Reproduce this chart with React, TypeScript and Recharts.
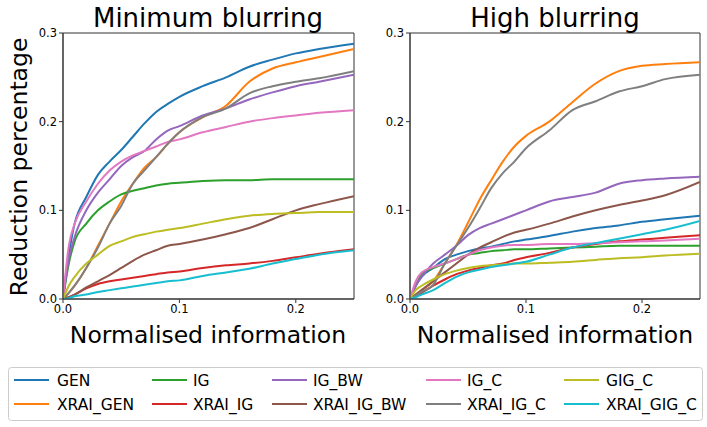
import React from 'react';
import { LineChart, Line, XAxis, YAxis, ReferenceArea } from 'recharts';

// shared x grid (normalised information)
const xGrid = [0, 0.005, 0.01, 0.02, 0.03, 0.04, 0.05, 0.06, 0.07, 0.08, 0.09, 0.1, 0.12, 0.14, 0.16, 0.18, 0.2, 0.22, 0.25];

const seriesNames = ['GEN', 'XRAI_GEN', 'IG', 'XRAI_IG', 'IG_BW', 'XRAI_IG_BW', 'IG_C', 'XRAI_IG_C', 'GIG_C', 'XRAI_GIG_C'];
const seriesColors = ['#1f77b4', '#ff7f0e', '#2ca02c', '#d62728', '#9467bd', '#8c564b', '#e377c2', '#7f7f7f', '#bcbd22', '#17becf'];

const xTicks = [0, 0.1, 0.2];
const yTicks = [0, 0.1, 0.2, 0.3];

// Minimum blurring
const minGEN = [0, 0.05, 0.085, 0.115, 0.14, 0.155, 0.168, 0.183, 0.198, 0.211, 0.22, 0.228, 0.24, 0.25, 0.262, 0.27, 0.277, 0.282, 0.288];
const minXRAI_GEN = [0, 0.007, 0.015, 0.035, 0.06, 0.085, 0.11, 0.13, 0.148, 0.16, 0.175, 0.188, 0.205, 0.218, 0.245, 0.26, 0.267, 0.273, 0.282];
const minIG = [0, 0.04, 0.065, 0.085, 0.1, 0.11, 0.118, 0.122, 0.125, 0.128, 0.13, 0.131, 0.133, 0.134, 0.134, 0.135, 0.135, 0.135, 0.135];
const minXRAI_IG = [0, 0.002, 0.005, 0.012, 0.017, 0.02, 0.022, 0.024, 0.026, 0.028, 0.03, 0.031, 0.035, 0.038, 0.04, 0.043, 0.047, 0.051, 0.056];
const minIG_BW = [0, 0.045, 0.07, 0.1, 0.12, 0.135, 0.15, 0.16, 0.167, 0.18, 0.19, 0.195, 0.207, 0.215, 0.225, 0.233, 0.24, 0.245, 0.253];
const minXRAI_IG_BW = [0, 0.002, 0.005, 0.013, 0.02, 0.027, 0.035, 0.043, 0.05, 0.055, 0.06, 0.062, 0.067, 0.073, 0.08, 0.09, 0.1, 0.107, 0.116];
const minIG_C = [0, 0.06, 0.085, 0.11, 0.13, 0.145, 0.155, 0.162, 0.167, 0.172, 0.177, 0.18, 0.188, 0.194, 0.2, 0.204, 0.207, 0.21, 0.213];
const minXRAI_IG_C = [0, 0.007, 0.015, 0.035, 0.058, 0.085, 0.105, 0.13, 0.145, 0.16, 0.175, 0.188, 0.205, 0.215, 0.232, 0.24, 0.245, 0.249, 0.257];
const minGIG_C = [0, 0.015, 0.025, 0.04, 0.05, 0.06, 0.065, 0.07, 0.073, 0.076, 0.078, 0.08, 0.085, 0.09, 0.094, 0.096, 0.097, 0.098, 0.098];
const minXRAI_GIG_C = [0, 0.001, 0.003, 0.005, 0.008, 0.01, 0.012, 0.014, 0.016, 0.018, 0.02, 0.021, 0.026, 0.03, 0.034, 0.04, 0.045, 0.05, 0.055];

// High blurring
const highGEN = [0, 0.015, 0.025, 0.035, 0.045, 0.05, 0.054, 0.057, 0.059, 0.062, 0.065, 0.067, 0.071, 0.076, 0.08, 0.083, 0.087, 0.09, 0.094];
const highXRAI_GEN = [0, 0.005, 0.01, 0.02, 0.04, 0.061, 0.086, 0.112, 0.134, 0.155, 0.172, 0.184, 0.2, 0.222, 0.243, 0.257, 0.263, 0.265, 0.267];
const highIG = [0, 0.015, 0.028, 0.035, 0.04, 0.045, 0.05, 0.052, 0.054, 0.055, 0.056, 0.056, 0.057, 0.058, 0.059, 0.06, 0.06, 0.06, 0.06];
const highXRAI_IG = [0, 0.003, 0.007, 0.015, 0.022, 0.028, 0.032, 0.035, 0.038, 0.04, 0.044, 0.047, 0.052, 0.058, 0.062, 0.065, 0.067, 0.069, 0.072];
const highIG_BW = [0, 0.015, 0.025, 0.04, 0.05, 0.06, 0.072, 0.08, 0.085, 0.09, 0.095, 0.1, 0.11, 0.115, 0.12, 0.13, 0.134, 0.136, 0.138];
const highXRAI_IG_BW = [0, 0.005, 0.01, 0.02, 0.03, 0.04, 0.05, 0.058, 0.064, 0.07, 0.075, 0.078, 0.085, 0.093, 0.1, 0.106, 0.111, 0.117, 0.132];
const highIG_C = [0, 0.02, 0.03, 0.036, 0.04, 0.045, 0.05, 0.055, 0.058, 0.06, 0.061, 0.061, 0.062, 0.062, 0.063, 0.064, 0.065, 0.066, 0.068];
const highXRAI_IG_C = [0, 0.004, 0.008, 0.016, 0.04, 0.06, 0.08, 0.102, 0.125, 0.142, 0.155, 0.17, 0.19, 0.213, 0.223, 0.234, 0.24, 0.248, 0.253];
const highGIG_C = [0, 0.01, 0.015, 0.022, 0.028, 0.032, 0.035, 0.037, 0.038, 0.039, 0.04, 0.04, 0.041, 0.042, 0.044, 0.046, 0.047, 0.049, 0.051];
const highXRAI_GIG_C = [0, 0.002, 0.005, 0.01, 0.018, 0.025, 0.03, 0.033, 0.036, 0.038, 0.04, 0.042, 0.05, 0.058, 0.063, 0.068, 0.073, 0.078, 0.088];

const minSeries = [minGEN, minXRAI_GEN, minIG, minXRAI_IG, minIG_BW, minXRAI_IG_BW, minIG_C, minXRAI_IG_C, minGIG_C, minXRAI_GIG_C];
const highSeries = [highGEN, highXRAI_GEN, highIG, highXRAI_IG, highIG_BW, highXRAI_IG_BW, highIG_C, highXRAI_IG_C, highGIG_C, highXRAI_GIG_C];

const buildRows = (series: number[][]) =>
  xGrid.map((x, i) => {
    const row: Record<string, number> = { x };
    seriesNames.forEach((name, s) => {
      row[name] = series[s][i];
    });
    return row;
  });

const FONT = '"DejaVu Sans", sans-serif';
const tickStyle = { fontSize: 11.5, fill: '#000', fontFamily: FONT };

interface PanelProps {
  series: number[][];
  left: number;
  width: number;
  margin: { top: number; right: number; bottom: number; left: number };
}

const Panel: React.FC<PanelProps> = ({ series, left, width, margin }) => (
  <div style={{ position: 'absolute', left, top: 0 }}>
    <LineChart width={width} height={350} data={buildRows(series)} margin={margin}>
      <XAxis
        dataKey="x"
        type="number"
        domain={[0, 0.25]}
        ticks={xTicks}
        tickFormatter={(v: number) => v.toFixed(1)}
        tick={tickStyle}
        tickSize={4}
        tickMargin={2}
        height={30}
        stroke="#333"
        allowDataOverflow
      />
      <YAxis
        type="number"
        domain={[0, 0.3]}
        ticks={yTicks}
        tickFormatter={(v: number) => v.toFixed(1)}
        tick={tickStyle}
        tickSize={4}
        tickMargin={2}
        width={40}
        stroke="#333"
        allowDataOverflow
      />
      {seriesNames.map((name, s) => (
        <Line
          key={name}
          dataKey={name}
          type="monotone"
          stroke={seriesColors[s]}
          strokeWidth={2}
          dot={false}
          isAnimationActive={false}
        />
      ))}
      <ReferenceArea x1={0} x2={0.25} y1={0} y2={0.3} fill="none" stroke="#333" strokeWidth={1} />
    </LineChart>
  </div>
);

const legendCols = [
  { lineX: 14, textX: 57 },
  { lineX: 152, textX: 193 },
  { lineX: 272, textX: 313 },
  { lineX: 426, textX: 467 },
  { lineX: 564, textX: 606 },
];

export default function App() {
  return (
    <div style={{ position: 'absolute', left: 0, top: 0, width: 707, height: 427, background: '#fff', fontFamily: FONT }}>
      <Panel series={minSeries} left={0} width={360} margin={{ top: 33, right: 6, bottom: 21, left: 23 }} />
      <Panel series={highSeries} left={355} width={352} margin={{ top: 33, right: 7, bottom: 21, left: 15 }} />
      <svg width={707} height={427} style={{ position: 'absolute', left: 0, top: 0, pointerEvents: 'none' }} fontFamily={FONT}>
        <text x={208} y={27} fontSize={26} textAnchor="middle" fill="#000">Minimum blurring</text>
        <text x={555} y={27} fontSize={26} textAnchor="middle" fill="#000">High blurring</text>
        <text x={208} y={343} fontSize={23.5} textAnchor="middle" fill="#000">Normalised information</text>
        <text x={555} y={343} fontSize={23.5} textAnchor="middle" fill="#000">Normalised information</text>
        <text x={27} y={167} fontSize={23.5} textAnchor="middle" fill="#000" transform="rotate(-90 27 167)">
          Reduction percentage
        </text>
        <rect x={8.5} y={367.5} width={694} height={53} rx={3} fill="#fff" stroke="#ccc" />
        {seriesNames.map((name, s) => {
          const col = legendCols[Math.floor(s / 2)];
          const y = s % 2 === 0 ? 380 : 404;
          return (
            <g key={name}>
              <line x1={col.lineX} x2={col.lineX + 35} y1={y} y2={y} stroke={seriesColors[s]} strokeWidth={2} />
              <text x={col.textX} y={y + 5.5} fontSize={15.5} fill="#000">{name}</text>
            </g>
          );
        })}
      </svg>
    </div>
  );
}
